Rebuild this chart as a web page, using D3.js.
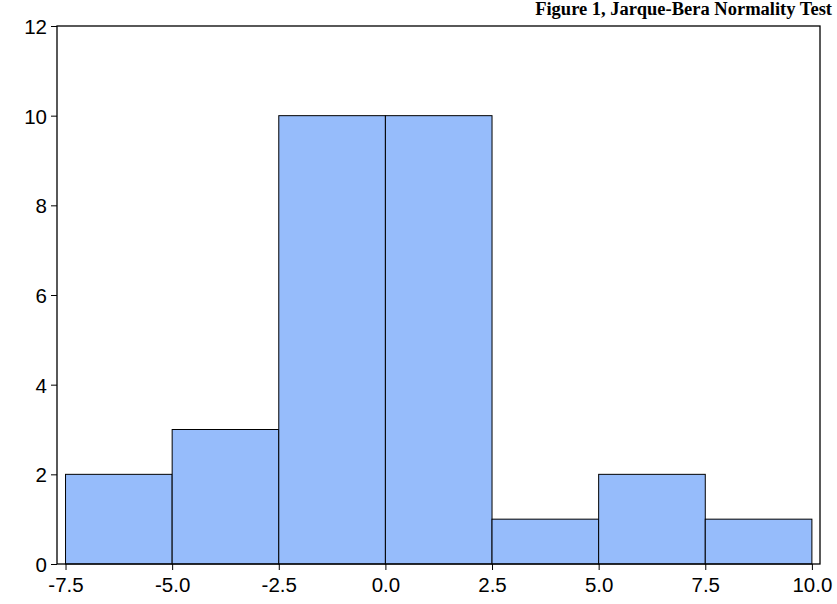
<!DOCTYPE html>
<html><head><meta charset="utf-8">
<script src="https://cdn.jsdelivr.net/npm/d3@7"></script>
<style>body{margin:0;background:#fff}</style>
</head><body>
<script>
const binStarts = [-7.5, -5.0, -2.5, 0.0, 2.5, 5.0, 7.5];
const binWidth = 2.5;
const counts = [2, 3, 10, 10, 1, 2, 1];
const xTicks = [-7.5, -5.0, -2.5, 0.0, 2.5, 5.0, 7.5, 10.0];
const yTicks = [0, 2, 4, 6, 8, 10, 12];
const title = "Figure 1, Jarque-Bera Normality Test";

const W = 837, H = 604;
const m = {left: 57, right: 17, top: 26, bottom: 40};
const svg = d3.select("body").append("svg").attr("width", W).attr("height", H);

const x = d3.scaleLinear().domain([-7.7, 10.19]).range([m.left, W - m.right]);
const y = d3.scaleLinear().domain([0, 12]).range([H - m.bottom, m.top]);

svg.append("g").selectAll("rect").data(counts).join("rect")
  .attr("x", (d, i) => x(binStarts[i]))
  .attr("width", x(binWidth) - x(0))
  .attr("y", d => y(d))
  .attr("height", d => y(0) - y(d))
  .attr("fill", "#96bcfb").attr("stroke", "#000").attr("stroke-width", 1);

const xa = svg.append("g").attr("transform", `translate(0,${H - m.bottom})`)
  .call(d3.axisBottom(x).tickValues(xTicks).tickFormat(d => d.toFixed(1)).tickSize(6).tickSizeOuter(0));
const ya = svg.append("g").attr("transform", `translate(${m.left},0)`)
  .call(d3.axisLeft(y).tickValues(yTicks).tickSize(6).tickSizeOuter(0));
[xa, ya].forEach(a => {
  a.select(".domain").remove();
  a.selectAll("text").attr("font-family", "Liberation Sans, Arial, sans-serif").attr("font-size", 20.5).attr("fill", "#000");
  a.selectAll("line").attr("stroke", "#000");
});
xa.selectAll("text").attr("dy", "1em").attr("y", 7);
ya.selectAll("text").attr("x", -10).attr("dy", "0.36em");

svg.append("rect").attr("x", m.left).attr("y", m.top)
  .attr("width", W - m.right - m.left).attr("height", H - m.bottom - m.top)
  .attr("fill", "none").attr("stroke", "#000").attr("stroke-width", 1.3);

svg.append("text").attr("x", 832).attr("y", 15).attr("text-anchor", "end")
  .attr("font-family", "Liberation Serif, Times New Roman, serif").attr("font-weight", "bold")
  .attr("font-size", 18.5).text(title);
</script>
</body></html>
